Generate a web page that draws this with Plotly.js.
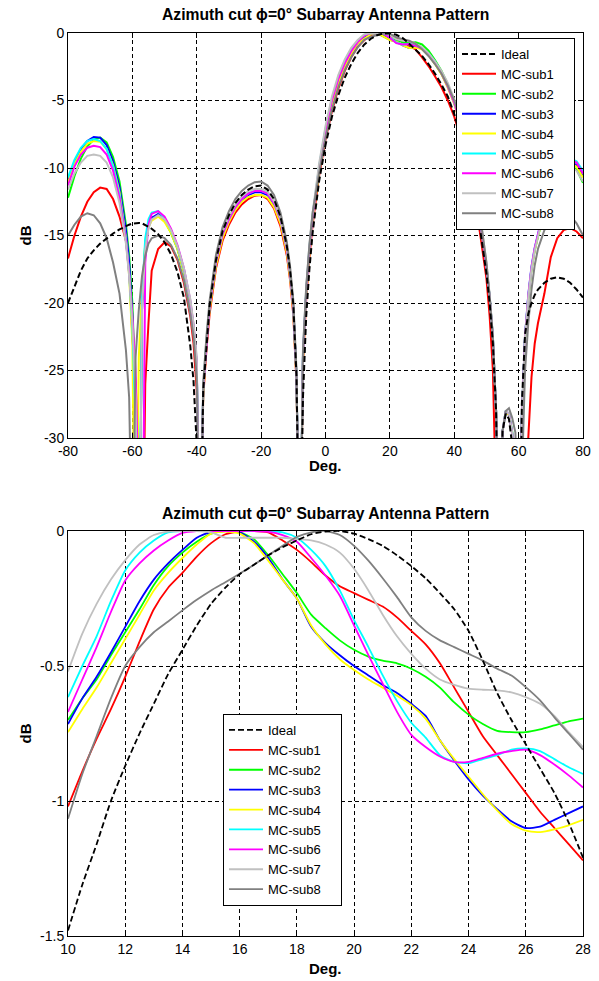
<!DOCTYPE html>
<html><head><meta charset="utf-8">
<script src="https://cdn.plot.ly/plotly-3.0.1.min.js"></script>
<style>html,body{margin:0;padding:0;background:#fff;} #chart{width:599px;height:981px;}</style>
</head><body><div id="chart"></div>
<script>
// ---------- top panel: full azimuth cut (deg) ----------
const X_TOP = [-80,-78,-76,-74,-72,-70,-68,-66,-64,-62,
  -61,-60,-59,-58,-57,-56,-55,-54,
  -52,-50,-48,-46,-44,-42,
  -41,-40,-39,-38,-37,-36,
  -34,-32,-30,-28,-26,-24,-22,-20,-18,-16,-14,-12,
  -11,-10,-9,-8,-7,-6,-5,-4,
  -2,0,2,4,6,8,
  10,12,14,16,18,20,22,24,26,28,
  30,32,34,36,38,40,42,44,46,48,50,
  51,52,53,54,55,56,57,58,59,60,61,62,63,64,65,66,
  68,70,72,74,76,78,80];

const TOP_IDEAL = [-20.0,-18.8,-17.6,-16.7,-16.1,-15.6,-15.2,-14.85,-14.55,-14.3,
  -14.2,-14.12,-14.08,-14.07,-14.1,-14.2,-14.35,-14.5,
  -14.9,-15.5,-16.4,-17.7,-19.6,-23.2,
  -25.8,-30.5,-42,-26.5,-23,-20.2,
  -16.8,-14.7,-13.5,-12.6,-12.0,-11.6,-11.35,-11.3,-11.6,-12.3,-13.6,-15.8,
  -17.6,-20.1,-25.5,-42,-27,-21,-17.5,-14.8,
  -11.0,-8.3,-6.2,-4.6,-3.3,-2.3,
  -1.48,-0.87,-0.44,-0.16,-0.035,-0.01,-0.13,-0.37,-0.79,-1.21,
  -1.7,-2.3,-3.0,-3.8,-4.7,-6.0,-7.6,-9.5,-11.8,-14.5,-17.8,
  -20,-23,-28,-42,-29.5,-28.2,-28.6,-30.5,-36,-45,-27.5,-22.3,-20.8,-20.0,-19.4,-19.0,
  -18.5,-18.2,-18.1,-18.2,-18.5,-19.0,-19.6];

const TOP_SUB1 = [-16.7,-15.0,-13.6,-12.5,-11.8,-11.45,-11.55,-12.3,-13.6,-15.4,
  -17.3,-22.5,-26,-31,-45,-26,-21.5,-17.6,
  -16.0,-15.5,-15.8,-16.8,-18.5,-21.0,
  -23,-26.5,-42,-27,-23.5,-20.8,
  -17.4,-15.4,-14.2,-13.3,-12.7,-12.3,-12.05,-12.0,-12.3,-13.0,-14.3,-16.5,
  -18.3,-20.9,-26,-42,-24.5,-19.8,-16.6,-14.2,
  -10.6,-7.9,-5.8,-4.1,-2.8,-1.8,
  -1.02,-0.54,-0.155,-0.002,-0.07,-0.23,-0.37,-0.67,-0.97,-1.22,
  -1.8,-2.45,-3.2,-4.0,-5.0,-6.2,-7.8,-9.7,-12.0,-14.8,-18.2,
  -21,-25,-33,-45,-36,-32,-31,-31,-32,-34,-38,-45,-30,-25.5,-23,-21.5,
  -19.3,-16.6,-15.2,-14.6,-14.45,-14.7,-15.2];

const TOP_SUB2 = [-12.2,-10.6,-9.3,-8.4,-7.9,-7.75,-8.1,-9.2,-11.0,-14.2,
  -16.5,-20,-27,-45,-20,-15.5,-14.2,-13.7,
  -13.5,-13.9,-14.8,-16.0,-17.7,-20.0,
  -21.7,-24.5,-42,-26.5,-23,-20.3,
  -17.0,-15.0,-13.8,-12.9,-12.3,-11.9,-11.7,-11.7,-11.9,-12.6,-13.8,-16.0,
  -17.8,-20.3,-25.5,-42,-24,-19.3,-16.1,-13.7,
  -10.2,-7.4,-5.2,-3.6,-2.4,-1.45,
  -0.70,-0.375,-0.08,-0.005,-0.23,-0.44,-0.51,-0.68,-0.745,-0.695,
  -0.85,-1.3,-2.0,-2.8,-3.8,-5.1,-6.7,-8.6,-11.0,-13.8,-17.3,
  -19.5,-22.5,-28,-42,-29.5,-28,-28.2,-29.5,-33,-45,-28.5,-22.5,-19.6,-17.5,-16.1,-15.1,
  -13.2,-11.6,-10.6,-10.0,-9.8,-10.1,-11.1];

const TOP_SUB3 = [-11.0,-9.6,-8.6,-8.0,-7.7,-7.75,-8.3,-9.5,-11.4,-14.6,
  -17,-21,-28,-45,-20.5,-15.8,-14.3,-13.7,
  -13.4,-13.8,-14.7,-15.9,-17.6,-20.0,
  -21.8,-24.5,-42,-26.5,-23,-20.3,
  -17.0,-15.0,-13.9,-13.0,-12.4,-12.0,-11.8,-11.8,-12.0,-12.7,-13.9,-16.1,
  -17.9,-20.4,-25.5,-42,-24,-19.3,-16.1,-13.7,
  -10.2,-7.4,-5.2,-3.6,-2.4,-1.45,
  -0.715,-0.355,-0.07,-0.005,-0.25,-0.50,-0.64,-0.92,-1.10,-1.02,
  -1.15,-1.6,-2.25,-3.0,-4.0,-5.2,-6.8,-8.7,-11.1,-13.9,-17.4,
  -19.6,-22.6,-28,-42,-29.5,-28.1,-28.3,-29.7,-33,-45,-28.5,-22.5,-19.5,-17.4,-16.0,-15.0,
  -13.0,-11.4,-10.3,-9.7,-9.5,-9.8,-10.6];

const TOP_SUB4 = [-11.1,-9.7,-8.8,-8.2,-8.0,-8.05,-8.6,-9.8,-11.8,-15.2,
  -18,-23,-45,-24,-19,-15.8,-14.4,-13.9,
  -13.6,-14.0,-14.8,-16.0,-17.7,-20.1,
  -22,-24.8,-42,-26.8,-23.2,-20.5,
  -17.2,-15.2,-14.0,-13.1,-12.5,-12.15,-12.0,-12.0,-12.2,-12.9,-14.1,-16.3,
  -18.1,-20.6,-25.8,-42,-24.2,-19.5,-16.3,-13.9,
  -10.3,-7.5,-5.3,-3.7,-2.45,-1.5,
  -0.745,-0.40,-0.10,-0.01,-0.25,-0.515,-0.645,-0.91,-1.11,-1.07,
  -1.2,-1.65,-2.3,-3.05,-4.05,-5.25,-6.85,-8.75,-11.1,-13.9,-17.4,
  -19.6,-22.6,-28,-42,-29.5,-28.1,-28.3,-29.7,-33,-45,-28.6,-22.6,-19.6,-17.5,-16.1,-15.1,
  -13.1,-11.5,-10.4,-9.8,-9.6,-9.9,-10.7];

const TOP_SUB5 = [-10.7,-9.4,-8.5,-8.0,-7.85,-8.0,-8.6,-9.9,-12.0,-15.3,
  -17.8,-21.8,-29,-45,-19.5,-15.2,-13.8,-13.3,
  -13.2,-13.7,-14.6,-15.8,-17.5,-19.9,
  -21.8,-24.5,-42,-26.4,-22.9,-20.2,
  -16.9,-14.9,-13.8,-12.9,-12.3,-11.9,-11.7,-11.7,-11.9,-12.6,-13.8,-16.0,
  -17.8,-20.3,-25.5,-42,-23.8,-19.1,-15.9,-13.5,
  -9.9,-7.1,-4.9,-3.3,-2.15,-1.25,
  -0.615,-0.146,0,0,-0.025,-0.33,-0.71,-0.86,-0.805,-0.90,
  -1.1,-1.5,-2.1,-2.9,-3.9,-5.1,-6.7,-8.6,-11.0,-13.8,-17.3,
  -19.5,-22.5,-28,-42,-29.5,-28,-28.2,-29.6,-33,-45,-28.4,-22.4,-19.4,-17.3,-15.9,-14.9,
  -12.9,-11.2,-10.1,-9.5,-9.3,-9.5,-10.2];

const TOP_SUB6 = [-11.3,-9.9,-9.0,-8.5,-8.35,-8.45,-9.0,-10.2,-12.2,-15.4,
  -17.8,-21,-25,-31,-45,-17,-14.2,-13.4,
  -13.2,-13.6,-14.5,-15.7,-17.4,-19.8,
  -21.6,-24.3,-42,-26.4,-22.9,-20.2,
  -16.9,-14.9,-13.8,-12.9,-12.3,-11.9,-11.7,-11.7,-11.9,-12.6,-13.8,-16.0,
  -17.8,-20.3,-25.5,-42,-23.9,-19.2,-16.0,-13.6,
  -10.0,-7.2,-5.0,-3.4,-2.25,-1.35,
  -0.67,-0.183,-0.007,0,-0.04,-0.35,-0.755,-0.855,-0.81,-0.95,
  -1.15,-1.55,-2.15,-2.95,-3.95,-5.15,-6.75,-8.65,-11.0,-13.8,-17.3,
  -19.5,-22.5,-28,-42,-29.5,-28,-28.2,-29.6,-33,-45,-28.4,-22.4,-19.4,-17.3,-15.9,-14.9,
  -12.9,-11.3,-10.2,-9.6,-9.4,-9.6,-10.4];

const TOP_SUB7 = [-11.6,-10.4,-9.6,-9.1,-9.0,-9.1,-9.6,-10.7,-12.6,-15.6,
  -18,-21.5,-27,-45,-20.5,-16,-14.5,-13.8,
  -13.5,-13.8,-14.6,-15.8,-17.4,-19.7,
  -21.5,-24,-42,-26.2,-22.7,-20.0,
  -16.7,-14.7,-13.6,-12.7,-12.1,-11.7,-11.55,-11.55,-11.75,-12.45,-13.7,-15.9,
  -17.7,-20.2,-25.3,-42,-23.6,-18.9,-15.7,-13.3,
  -9.7,-6.9,-4.7,-3.1,-1.95,-1.1,
  -0.52,-0.108,0,-0.025,-0.03,-0.14,-0.455,-0.584,-0.615,-0.80,
  -1.05,-1.5,-2.1,-2.8,-3.7,-4.9,-6.4,-8.3,-10.6,-13.4,-17.0,
  -19.4,-22.4,-28,-42,-29.5,-28,-28.2,-29.6,-33,-45,-28.5,-22.5,-19.6,-17.5,-16.1,-15.1,
  -13.1,-11.6,-10.6,-10.0,-9.9,-10.2,-11.0];

const TOP_SUB8 = [-15.0,-14.2,-13.6,-13.35,-13.5,-14.1,-15.2,-17.0,-19.3,-23.5,
  -27,-40,-24,-20.5,-18,-16.5,-15.6,-15.2,
  -15.0,-15.2,-15.7,-16.7,-18.3,-20.8,
  -22.5,-25.5,-42,-26,-22.5,-19.8,
  -16.4,-14.4,-13.2,-12.3,-11.7,-11.3,-11.05,-11.0,-11.3,-12.0,-13.3,-15.5,
  -17.3,-19.8,-25,-42,-23.5,-18.8,-15.7,-13.3,
  -10.4,-7.8,-5.7,-4.0,-2.75,-1.8,
  -1.066,-0.50,-0.294,-0.158,-0.022,-0.055,-0.32,-0.455,-0.578,-0.81,
  -1.2,-1.7,-2.3,-3.0,-3.9,-5.0,-6.5,-8.4,-10.7,-13.5,-17.0,
  -19.5,-22.5,-28,-42,-29.5,-28,-27.8,-28.5,-29.6,-40,-33,-25,-21.5,-19,-17.2,-16,
  -14.6,-13.9,-13.5,-13.35,-13.5,-14.1,-15.0];

// ---------- bottom panel: main-lobe zoom (deg) ----------
const X_BOT = [10,10.5,11,11.5,12,12.5,13,13.5,14,14.5,15,15.5,16,16.5,17,17.5,18,18.5,19,19.5,
  20,20.5,21,21.5,22,22.5,23,23.5,24,24.5,25,25.5,26,26.5,27,27.5,28];

const BOT_IDEAL = [-1.48,-1.31,-1.16,-1.00,-0.87,-0.75,-0.64,-0.53,-0.44,-0.35,-0.27,-0.21,-0.16,-0.125,-0.09,-0.06,-0.035,-0.012,-0.002,0,
  -0.01,-0.03,-0.055,-0.09,-0.13,-0.175,-0.23,-0.29,-0.37,-0.48,-0.60,-0.70,-0.79,-0.88,-0.97,-1.08,-1.21];
const BOT_SUB1 = [-1.02,-0.89,-0.77,-0.66,-0.54,-0.41,-0.29,-0.21,-0.155,-0.095,-0.045,-0.012,-0.002,0,-0.005,-0.035,-0.07,-0.115,-0.165,-0.205,
  -0.23,-0.255,-0.28,-0.32,-0.37,-0.42,-0.49,-0.58,-0.67,-0.76,-0.83,-0.90,-0.97,-1.04,-1.10,-1.16,-1.22];
const BOT_SUB2 = [-0.70,-0.62,-0.55,-0.46,-0.375,-0.29,-0.20,-0.13,-0.08,-0.04,-0.01,0,-0.005,-0.03,-0.09,-0.16,-0.23,-0.31,-0.36,-0.405,
  -0.44,-0.465,-0.48,-0.49,-0.51,-0.54,-0.58,-0.635,-0.68,-0.715,-0.74,-0.745,-0.745,-0.735,-0.72,-0.705,-0.695];
const BOT_SUB3 = [-0.715,-0.62,-0.54,-0.45,-0.355,-0.26,-0.18,-0.12,-0.07,-0.025,-0.003,0,-0.005,-0.04,-0.10,-0.18,-0.25,-0.355,-0.415,-0.46,
  -0.50,-0.535,-0.57,-0.60,-0.64,-0.685,-0.775,-0.85,-0.92,-0.98,-1.03,-1.075,-1.10,-1.095,-1.07,-1.045,-1.02];
const BOT_SUB4 = [-0.745,-0.66,-0.58,-0.49,-0.40,-0.31,-0.22,-0.155,-0.10,-0.05,-0.01,-0.002,-0.01,-0.045,-0.11,-0.18,-0.25,-0.35,-0.42,-0.475,
  -0.515,-0.55,-0.58,-0.61,-0.645,-0.695,-0.775,-0.845,-0.91,-0.975,-1.035,-1.085,-1.11,-1.115,-1.105,-1.09,-1.07];
const BOT_SUB5 = [-0.615,-0.50,-0.39,-0.26,-0.146,-0.08,-0.035,-0.005,0,0,0,0,0,0,0,-0.005,-0.025,-0.07,-0.13,-0.22,
  -0.33,-0.43,-0.535,-0.63,-0.71,-0.765,-0.83,-0.855,-0.86,-0.845,-0.83,-0.81,-0.805,-0.815,-0.845,-0.875,-0.90];
const BOT_SUB6 = [-0.67,-0.55,-0.43,-0.30,-0.183,-0.12,-0.072,-0.035,-0.007,0,0,0,0,0,-0.003,-0.015,-0.04,-0.10,-0.165,-0.24,
  -0.35,-0.46,-0.565,-0.67,-0.755,-0.80,-0.835,-0.855,-0.855,-0.84,-0.825,-0.815,-0.81,-0.83,-0.865,-0.905,-0.95];
const BOT_SUB7 = [-0.52,-0.38,-0.27,-0.18,-0.108,-0.05,-0.015,-0.002,0,0,-0.005,-0.025,-0.025,-0.025,-0.025,-0.025,-0.03,-0.035,-0.05,-0.08,
  -0.14,-0.22,-0.31,-0.39,-0.455,-0.51,-0.55,-0.57,-0.584,-0.588,-0.59,-0.598,-0.615,-0.64,-0.685,-0.745,-0.80];
const BOT_SUB8 = [-1.066,-0.90,-0.76,-0.62,-0.50,-0.43,-0.375,-0.335,-0.294,-0.255,-0.22,-0.19,-0.158,-0.125,-0.09,-0.055,-0.022,-0.005,0,-0.015,
  -0.055,-0.11,-0.175,-0.245,-0.32,-0.37,-0.405,-0.43,-0.455,-0.48,-0.51,-0.535,-0.578,-0.627,-0.69,-0.75,-0.81];

// ---------- labels ----------
const SERIES_NAMES = ['MC-sub1','MC-sub2','MC-sub3','MC-sub4','MC-sub5','MC-sub6','MC-sub7','MC-sub8'];
const IDEAL_NAME = 'Ideal';
const TITLE_TEXT = 'Azimuth cut \u03D5=0\u00B0 Subarray Antenna Pattern';
const X_LABEL = 'Deg.';
const Y_LABEL = 'dB';
const TOP_XTICKS = [-80,-60,-40,-20,0,20,40,60,80];
const TOP_XTICKTEXT = ['-80','-60','-40','-20','0','20','40','60','80'];
const TOP_YTICKS = [-30,-25,-20,-15,-10,-5,0];
const TOP_YTICKTEXT = ['-30','-25','-20','-15','-10','-5','0'];
const BOT_XTICKS = [10,12,14,16,18,20,22,24,26,28];
const BOT_XTICKTEXT = ['10','12','14','16','18','20','22','24','26','28'];
const BOT_YTICKS = [-1.5,-1,-0.5,0];
const BOT_YTICKTEXT = ['-1.5','-1','-0.5','0'];

// ---------- styles ----------
const COLORS = ['#ff0000','#00ff00','#0000ff','#ffff00','#00ffff','#ff00ff','#c0c0c0','#808080'];
const TOP_SUBS = [TOP_SUB1,TOP_SUB2,TOP_SUB3,TOP_SUB4,TOP_SUB5,TOP_SUB6,TOP_SUB7,TOP_SUB8];
const BOT_SUBS = [BOT_SUB1,BOT_SUB2,BOT_SUB3,BOT_SUB4,BOT_SUB5,BOT_SUB6,BOT_SUB7,BOT_SUB8];
const FONT = 'Liberation Sans, Arial, Helvetica, sans-serif';
const PAD = '\u00A0\u00A0\u00A0\u00A0'; // trailing blank room inside the legend box

const W = 599, H = 981;
const xDom = [68/W, 583/W];
const yDomTop = [1-438/H, 1-33/H];
const yDomBot = [1-936/H, 1-531/H];

const traces = [];
SERIES_NAMES.forEach((n,i)=>{
  traces.push({x:X_TOP, y:TOP_SUBS[i], xaxis:'x', yaxis:'y', type:'scatter', mode:'lines', name:n+PAD,
    line:{color:COLORS[i], width:2}, legend:'legend', legendrank:i+2});
});
traces.push({x:X_TOP, y:TOP_IDEAL, xaxis:'x', yaxis:'y', type:'scatter', mode:'lines', name:IDEAL_NAME,
  line:{color:'#000000', width:2, dash:'6px,3px'}, legend:'legend', legendrank:1});
SERIES_NAMES.forEach((n,i)=>{
  traces.push({x:X_BOT, y:BOT_SUBS[i], xaxis:'x2', yaxis:'y2', type:'scatter', mode:'lines', name:n+PAD,
    line:{color:COLORS[i], width:1.8, shape:'spline', smoothing:0.6}, legend:'legend2', legendrank:i+2});
});
traces.push({x:X_BOT, y:BOT_IDEAL, xaxis:'x2', yaxis:'y2', type:'scatter', mode:'lines', name:IDEAL_NAME,
  line:{color:'#000000', width:1.8, dash:'6px,3px', shape:'spline', smoothing:0.6}, legend:'legend2', legendrank:1});

function axis(extra){
  return Object.assign({
    showgrid:true, gridcolor:'#000000', gridwidth:1, griddash:'4px,3px',
    zeroline:false, showline:true, linecolor:'#000000', linewidth:1, mirror:'ticks',
    ticks:'inside', ticklen:5, tickcolor:'#000000', tickmode:'array',
    tickfont:{family:FONT, size:14, color:'#000000'}, fixedrange:true
  }, extra);
}

const legendBase = {bgcolor:'#ffffff', bordercolor:'#000000', borderwidth:1,
  font:{family:FONT, size:13, color:'#000000'}, xanchor:'left', yanchor:'top', traceorder:'normal',
  itemwidth:34};

const ann = (text, x, y, extra) => Object.assign({text, x, y, xref:'paper', yref:'paper',
  showarrow:false, xanchor:'center', yanchor:'middle',
  font:{family:FONT, size:15.7, color:'#000000'}}, extra||{});

const layout = {
  width:W, height:H, margin:{l:0,r:0,t:0,b:0},
  paper_bgcolor:'#ffffff', plot_bgcolor:'#ffffff', showlegend:true, hovermode:false,
  xaxis: axis({domain:xDom, range:[-80,80], anchor:'y', tickvals:TOP_XTICKS, ticktext:TOP_XTICKTEXT}),
  yaxis: axis({domain:yDomTop, range:[-30,0], anchor:'x', tickvals:TOP_YTICKS, ticktext:TOP_YTICKTEXT}),
  xaxis2: axis({domain:xDom, range:[10,28], anchor:'y2', tickvals:BOT_XTICKS, ticktext:BOT_XTICKTEXT}),
  yaxis2: axis({domain:yDomBot, range:[-1.5,0], anchor:'x2', tickvals:BOT_YTICKS, ticktext:BOT_YTICKTEXT}),
  legend: Object.assign({x:456/W, y:1-38/H}, legendBase),
  legend2: Object.assign({x:223/W, y:1-714/H}, legendBase),
  annotations:[
    ann('<b>'+TITLE_TEXT+'</b>', 325.5/W, 1-15/H),
    ann('<b>'+TITLE_TEXT+'</b>', 325.5/W, 1-513/H),
    ann('<b>'+X_LABEL+'</b>', 325.5/W, 1-466/H, {font:{family:FONT, size:15, color:'#000000'}}),
    ann('<b>'+X_LABEL+'</b>', 325.5/W, 1-968/H, {font:{family:FONT, size:15, color:'#000000'}}),
    ann('<b>'+Y_LABEL+'</b>', 25/W, 1-235.5/H, {textangle:-90, font:{family:FONT, size:15, color:'#000000'}}),
    ann('<b>'+Y_LABEL+'</b>', 25/W, 1-733.5/H, {textangle:-90, font:{family:FONT, size:15, color:'#000000'}})
  ]
};

Plotly.newPlot('chart', traces, layout, {staticPlot:true, displayModeBar:false});
</script></body></html>
